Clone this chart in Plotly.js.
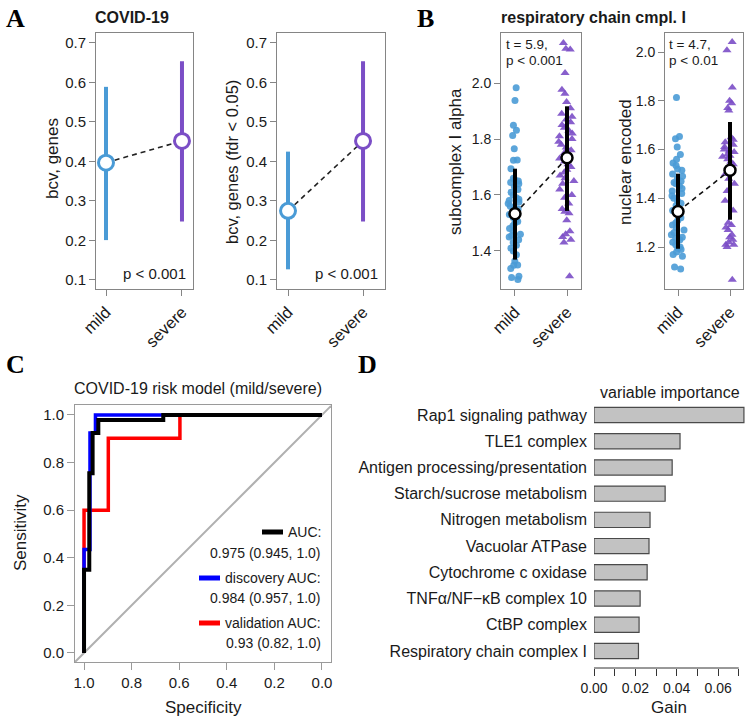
<!DOCTYPE html>
<html><head><meta charset="utf-8">
<script src="https://cdn.plot.ly/plotly-3.0.1.min.js"></script>
<style>html,body{margin:0;padding:0;background:#fff;}#chart{width:746px;height:721px;}</style>
</head><body><div id="chart"></div>
<script>
// ---------- DATA ----------
const groups = ['mild', 'severe'];
// Panel A (point + range)
const a1Mean = [0.397, 0.452], a1Low = [0.201, 0.248], a1High = [0.589, 0.654];
const a2Mean = [0.275, 0.452], a2Low = [0.127, 0.248], a2High = [0.425, 0.654];
const aTickVals = [0.1, 0.2, 0.3, 0.4, 0.5, 0.6, 0.7];
const aPvalText = 'p < 0.001';
// Panel B (individual samples)
const b1Mild = [1.983, 1.938, 1.849, 1.831, 1.813, 1.765, 1.724, 1.725, 1.694, 1.66, 1.655, 1.65, 1.645, 1.64, 1.63, 1.62, 1.61, 1.60, 1.59, 1.585, 1.58, 1.575, 1.57, 1.56, 1.555, 1.55, 1.545, 1.54, 1.53, 1.52, 1.51, 1.505, 1.50, 1.49, 1.48, 1.47, 1.46, 1.455, 1.45, 1.44, 1.43, 1.42, 1.41, 1.40, 1.386, 1.364, 1.35, 1.349, 1.337, 1.31, 1.305, 1.298];
const b1Severe = [2.143, 2.123, 2.12, 2.036, 1.976, 1.962, 1.932, 1.91, 1.89, 1.88, 1.87, 1.86, 1.85, 1.84, 1.83, 1.82, 1.81, 1.80, 1.79, 1.78, 1.77, 1.76, 1.75, 1.74, 1.73, 1.72, 1.71, 1.70, 1.69, 1.68, 1.67, 1.66, 1.65, 1.64, 1.62, 1.60, 1.59, 1.57, 1.55, 1.54, 1.535, 1.51, 1.47, 1.46, 1.45, 1.44, 1.43, 1.31];
const b1Mean = [1.533, 1.733], b1Low = [1.369, 1.543], b1High = [1.694, 1.917];
const b2Mild = [1.813, 1.654, 1.644, 1.61, 1.58, 1.56, 1.545, 1.535, 1.52, 1.515, 1.50, 1.49, 1.48, 1.47, 1.465, 1.46, 1.45, 1.44, 1.43, 1.42, 1.41, 1.40, 1.39, 1.38, 1.37, 1.36, 1.35, 1.34, 1.33, 1.32, 1.31, 1.30, 1.29, 1.28, 1.27, 1.26, 1.25, 1.24, 1.235, 1.23, 1.22, 1.21, 1.20, 1.195, 1.19, 1.18, 1.17, 1.162, 1.118, 1.11];
const b2Severe = [2.041, 2.007, 1.854, 1.80, 1.79, 1.77, 1.76, 1.65, 1.64, 1.63, 1.62, 1.61, 1.60, 1.595, 1.59, 1.58, 1.575, 1.57, 1.56, 1.55, 1.54, 1.53, 1.52, 1.50, 1.48, 1.46, 1.43, 1.39, 1.35, 1.30, 1.29, 1.28, 1.27, 1.25, 1.24, 1.23, 1.22, 1.21, 1.21, 1.20, 1.066];
const b2Mean = [1.346, 1.515], b2Low = [1.193, 1.312], b2High = [1.501, 1.713];
const b1Stat = ['t = 5.9,', 'p < 0.001'];
const b2Stat = ['t = 4.7,', 'p < 0.01'];
// Panel C (ROC curves: specificity, sensitivity)
const rocAllSpec = [1, 1, 0.978, 0.978, 0.964, 0.964, 0.94, 0.94, 0.667, 0.667, 0];
const rocAllSens = [0, 0.35, 0.35, 0.755, 0.755, 0.924, 0.924, 0.979, 0.979, 1, 1];
const rocDiscSpec = [1, 1, 0.975, 0.975, 0.952, 0.952, 0];
const rocDiscSens = [0, 0.435, 0.435, 0.924, 0.924, 1, 1];
const rocValSpec = [1, 1, 0.898, 0.898, 0.597, 0.597, 0];
const rocValSens = [0, 0.60, 0.60, 0.902, 0.902, 1, 1];
const rocLegend = [['AUC:', '0.975 (0.945, 1.0)'], ['discovery AUC:', '0.984 (0.957, 1.0)'], ['validation AUC:', '0.93 (0.82, 1.0)']];
const cTickVals = [0, 0.2, 0.4, 0.6, 0.8, 1.0];
// Panel D (variable importance)
const dLabels = ['Rap1 signaling pathway', 'TLE1 complex', 'Antigen processing/presentation', 'Starch/sucrose metabolism', 'Nitrogen metabolism', 'Vacuolar ATPase', 'Cytochrome c oxidase', 'TNF\u03b1/NF\u2212\u03baB complex 10', 'CtBP complex', 'Respiratory chain complex I'];
const dGain = [0.0725, 0.0416, 0.0378, 0.0344, 0.0271, 0.0266, 0.0257, 0.0223, 0.0218, 0.0215];
const dTickVals = [0, 0.01, 0.02, 0.03, 0.04, 0.05, 0.06, 0.07];
const dTickText = ['0.00', '', '0.02', '', '0.04', '', '0.06', ''];

// ---------- STYLE ----------
const W = 746, H = 721;
const X = p => p / W, Y = p => 1 - p / H;
const F = "'Liberation Sans', Arial, sans-serif";
const FS = "'Liberation Serif', 'Times New Roman', serif";
const BLUE = '#4a9bd6', PURPLE = '#7b4ec6';
const gcol = [BLUE, PURPLE];
const TXT = '#1a1a1a';

const traces = [];
function rangePanel(xa, ya, mean, low, high) {
  traces.push({x: groups, y: mean, mode: 'lines', xaxis: xa, yaxis: ya, hoverinfo: 'skip',
    line: {color: '#222', width: 1.6, dash: '5px,4px'}});
  groups.forEach((g, i) => traces.push({
    x: [g], y: [mean[i]], mode: 'markers', xaxis: xa, yaxis: ya,
    marker: {size: 15, color: 'white', line: {color: gcol[i], width: 3}},
    error_y: {type: 'data', symmetric: false, array: [high[i] - mean[i]], arrayminus: [mean[i] - low[i]],
      width: 0, thickness: 4, color: gcol[i]}
  }));
}
rangePanel('x', 'y', a1Mean, a1Low, a1High);
rangePanel('x2', 'y2', a2Mean, a2Low, a2High);

function pointsPanel(xa, ya, mild, severe, mean, low, high) {
  traces.push({type: 'box', x: mild.map(() => groups[0]), y: mild, xaxis: xa, yaxis: ya,
    boxpoints: 'all', jitter: 1, pointpos: 0, width: 0.28, fillcolor: 'rgba(0,0,0,0)',
    line: {width: 0, color: 'rgba(0,0,0,0)'}, hoverinfo: 'skip',
    marker: {symbol: 'circle', size: 7, color: BLUE, opacity: 0.9, line: {width: 0}}});
  traces.push({type: 'box', x: severe.map(() => groups[1]), y: severe, xaxis: xa, yaxis: ya,
    boxpoints: 'all', jitter: 1, pointpos: 0, width: 0.34, fillcolor: 'rgba(0,0,0,0)',
    line: {width: 0, color: 'rgba(0,0,0,0)'}, hoverinfo: 'skip',
    marker: {symbol: 'triangle-up', size: 8, color: PURPLE, opacity: 0.9, line: {width: 0}}});
  traces.push({x: groups, y: mean, mode: 'lines', xaxis: xa, yaxis: ya, hoverinfo: 'skip',
    line: {color: '#111', width: 1.6, dash: '5px,4px'}});
  traces.push({x: groups, y: mean, mode: 'markers', xaxis: xa, yaxis: ya,
    marker: {size: 11, color: 'white', line: {color: '#000', width: 2.5}},
    error_y: {type: 'data', symmetric: false, array: high.map((h, i) => h - mean[i]),
      arrayminus: low.map((l, i) => mean[i] - l), width: 0, thickness: 4, color: '#000'}});
}
pointsPanel('x3', 'y3', b1Mild, b1Severe, b1Mean, b1Low, b1High);
pointsPanel('x4', 'y4', b2Mild, b2Severe, b2Mean, b2Low, b2High);

// Panel C
traces.push({x: rocValSpec, y: rocValSens, mode: 'lines', xaxis: 'x5', yaxis: 'y5', line: {color: '#ff0000', width: 3.5}});
traces.push({x: rocDiscSpec, y: rocDiscSens, mode: 'lines', xaxis: 'x5', yaxis: 'y5', line: {color: '#0000ff', width: 3.5}});
traces.push({x: rocAllSpec, y: rocAllSens, mode: 'lines', xaxis: 'x5', yaxis: 'y5', line: {color: '#000', width: 4}});

// Panel D
traces.push({type: 'bar', orientation: 'h', x: dGain, y: dLabels, xaxis: 'x6', yaxis: 'y6', width: 0.58,
  marker: {color: '#c2c2c2', line: {color: '#4a4a4a', width: 1.2}}});

// ---------- AXES ----------
const frame = {showline: true, mirror: true, linecolor: '#858585', linewidth: 1, ticks: 'outside', ticklen: 6,
  tickcolor: '#858585', showgrid: false, zeroline: false, tickfont: {family: F, size: 15, color: TXT}, fixedrange: true};
const catX = Object.assign({}, frame, {type: 'category', categoryorder: 'array', categoryarray: groups, tickangle: -45,
  tickfont: {family: F, size: 16.5, color: TXT}});
const yA = Object.assign({}, frame, {tickvals: aTickVals, ticktext: aTickVals.map(v => v.toFixed(1)), range: [0.0772, 0.7253]});
const topDom = [Y(289), Y(33)];

const layout = {
  width: W, height: H, margin: {l: 0, r: 0, t: 0, b: 0}, showlegend: false,
  paper_bgcolor: '#fff', plot_bgcolor: '#fff', font: {family: F, color: TXT},
  xaxis: Object.assign({}, catX, {domain: [X(96), X(193)], range: [-0.1316, 1.145], anchor: 'y'}),
  yaxis: Object.assign({}, yA, {domain: topDom, anchor: 'x'}),
  xaxis2: Object.assign({}, catX, {domain: [X(277), X(385)], range: [-0.147, 1.293], anchor: 'y2'}),
  yaxis2: Object.assign({}, yA, {domain: topDom, anchor: 'x2'}),
  xaxis3: Object.assign({}, catX, {domain: [X(501), X(581)], range: [-0.269, 1.269], anchor: 'y3'}),
  yaxis3: Object.assign({}, frame, {domain: topDom, anchor: 'x3', range: [1.264, 2.179], tickvals: [1.4, 1.6, 1.8, 2.0], tickformat: '.1f', tickfont: {family: F, size: 14, color: TXT}}),
  xaxis4: Object.assign({}, catX, {domain: [X(665), X(743)], range: [-0.25, 1.25], anchor: 'y4'}),
  yaxis4: Object.assign({}, frame, {domain: topDom, anchor: 'x4', range: [1.028, 2.078], tickvals: [1.2, 1.4, 1.6, 1.8, 2.0], tickformat: '.1f', tickfont: {family: F, size: 14, color: TXT}}),
  xaxis5: Object.assign({}, frame, {domain: [X(75), X(331)], range: [1.038, -0.038], anchor: 'y5', tickvals: cTickVals, tickformat: '.1f', ticklen: 7, linecolor: '#9a9a9a', tickcolor: '#9a9a9a'}),
  yaxis5: Object.assign({}, frame, {domain: [Y(662), Y(405)], range: [-0.038, 1.042], anchor: 'x5', tickvals: cTickVals, tickformat: '.1f', ticklen: 7, linecolor: '#9a9a9a', tickcolor: '#9a9a9a'}),
  xaxis6: {domain: [X(594), 1], range: [0, 0.0735], anchor: 'y6', showline: false, showgrid: false, zeroline: false,
    ticks: 'outside', ticklen: 7, tickcolor: '#333', tickvals: dTickVals, ticktext: dTickText, tickfont: {family: F, size: 14, color: TXT}, fixedrange: true},
  yaxis6: {domain: [Y(668), Y(401.9)], anchor: 'x6', type: 'category', categoryorder: 'array', categoryarray: dLabels,
    range: [9.65, -0.5], showline: false, showgrid: false, zeroline: false, ticks: '', ticklabelstandoff: 6,
    tickfont: {family: F, size: 16, color: TXT}, fixedrange: true},
  shapes: [
    {type: 'line', xref: 'x5', yref: 'y5', x0: 1.038, y0: -0.038, x1: -0.038, y1: 1.038, line: {color: '#b0b0b0', width: 2}, layer: 'below'},
    {type: 'line', xref: 'x6', yref: 'paper', x0: 0, x1: 0.07, y0: Y(668), y1: Y(668), line: {color: '#333', width: 1}},
    {type: 'line', xref: 'paper', yref: 'paper', x0: X(262), x1: X(283), y0: Y(532), y1: Y(532), line: {color: '#000', width: 5}},
    {type: 'line', xref: 'paper', yref: 'paper', x0: X(199), x1: X(220), y0: Y(578), y1: Y(578), line: {color: '#0000ff', width: 5}},
    {type: 'line', xref: 'paper', yref: 'paper', x0: X(199), x1: X(220), y0: Y(623), y1: Y(623), line: {color: '#ff0000', width: 5}}
  ],
  annotations: []
};

const ann = layout.annotations;
function txt(text, x, y, size, opts) {
  ann.push(Object.assign({text: text, x: X(x), y: Y(y), xref: 'paper', yref: 'paper', showarrow: false,
    xanchor: 'center', yanchor: 'middle', font: {family: F, size: size, color: TXT}}, opts || {}));
}
// panel letters
[['A', 15, 19], ['B', 425, 19], ['C', 15, 364], ['D', 367, 364]].forEach(l =>
  txt('<b>' + l[0] + '</b>', l[1], l[2], 26, {font: {family: FS, size: 26, color: '#000'}}));
// panel titles
txt('<b>COVID-19</b>', 132, 18, 16);
txt('<b>respiratory chain cmpl. I</b>', 593, 18, 16);
txt('COVID-19 risk model (mild/severe)', 198, 388, 16);
txt('variable importance', 670, 392, 16);
// axis titles
txt('bcv, genes', 52, 159, 17, {textangle: -90});
txt('bcv, genes (fdr < 0.05)', 232, 162, 16.5, {textangle: -90});
txt('subcomplex I alpha', 455, 162, 17, {textangle: -90});
txt('nuclear encoded', 625, 162, 17, {textangle: -90});
txt('Sensitivity', 20, 533, 17, {textangle: -90});
txt('Specificity', 203, 707, 17);
txt('Gain', 669, 707, 17);
// stats text
txt(aPvalText, 188, 273, 15, {xanchor: 'right'});
txt(aPvalText, 380, 273, 15, {xanchor: 'right'});
txt(b1Stat[0], 504, 45, 13.5, {xanchor: 'left'});
txt(b1Stat[1], 504, 61, 13.5, {xanchor: 'left'});
txt(b2Stat[0], 667, 45, 13.5, {xanchor: 'left'});
txt(b2Stat[1], 667, 61, 13.5, {xanchor: 'left'});
// ROC legend
const legY = [[532, 553], [578, 598], [623, 643]];
rocLegend.forEach((l, i) => {
  txt(l[0], 323, legY[i][0], 14, {xanchor: 'right'});
  txt(l[1], 323, legY[i][1], 14, {xanchor: 'right'});
});

Plotly.newPlot('chart', traces, layout, {staticPlot: true, displayModeBar: false});
</script>
</body></html>
